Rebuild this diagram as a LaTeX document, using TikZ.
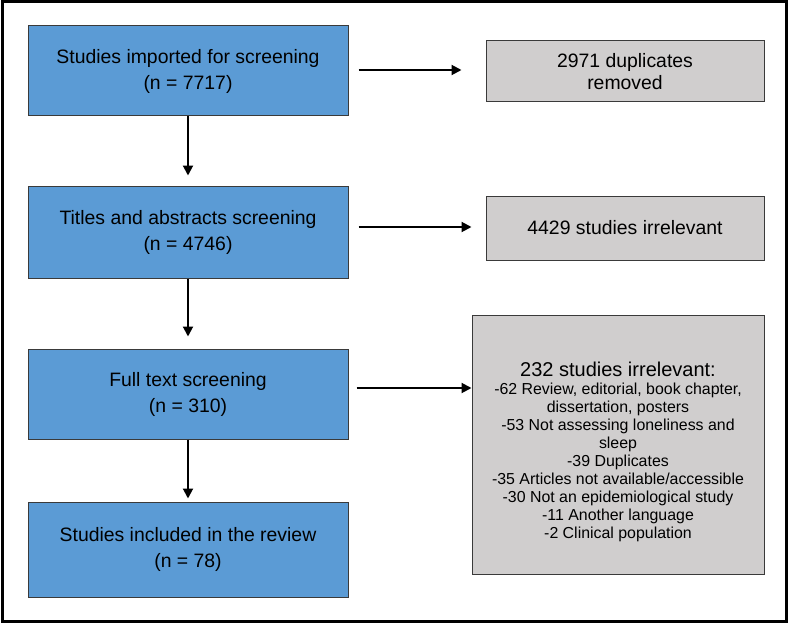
\documentclass[tikz,border=0pt]{standalone}
\usepackage{fontspec}
\setmainfont{Liberation Sans}
\usetikzlibrary{arrows.meta,calc}
\definecolor{boxblue}{HTML}{5B9BD5}
\definecolor{boxgray}{HTML}{D0CECE}
\definecolor{edgegray}{HTML}{3A3A3A}
\tikzset{
  mainbox/.style={draw=edgegray, line width=1pt, fill=boxblue, align=center,
    minimum width=320pt, inner sep=0pt, font=\fontsize{19.4}{26}\selectfont},
  sidebox/.style={draw=edgegray, line width=1pt, fill=boxgray, align=center,
    inner sep=0pt, font=\fontsize{19.4}{22}\selectfont},
  arr/.style={line width=2pt, -{Triangle[length=10pt,width=10pt]}}
}
\begin{document}
\begin{tikzpicture}[x=1pt,y=-1pt]
\useasboundingbox (0,0) rectangle (789,623);
\draw[line width=3pt] (2,2) rectangle (786,621);

\node[mainbox, minimum height=90pt] (b1) at (188,71) {Studies imported for screening\\(n = 7717)};
\node[mainbox, minimum height=92pt] (b2) at (188,232) {Titles and abstracts screening\\(n = 4746)};
\node[mainbox, minimum height=90pt] (b3) at (188,394) {Full text screening\\(n = 310)};
\node[mainbox, minimum height=95pt] (b4) at (188,549.5) {Studies included in the review\\(n = 78)};

\node[sidebox, minimum width=278pt, minimum height=61pt] (r1) at (625,71.5) {2971 duplicates\\removed};
\node[sidebox, minimum width=278pt, minimum height=64pt] (r2) at (625,228) {4429 studies irrelevant};
\node[sidebox, minimum width=292pt, minimum height=259pt, font=\fontsize{15.9}{17.9}\selectfont] (r3) at (618,444.5)
  {\raisebox{-8pt}[\height][\depth]{\begin{tabular}{@{}c@{}}
   {\fontsize{20}{22}\selectfont 232 studies irrelevant:}\\[1pt]
   -62 Review, editorial, book chapter,\\
   dissertation, posters\\
   -53 Not assessing loneliness and\\
   sleep\\
   -39 Duplicates\\
   -35 Articles not available/accessible\\
   -30 Not an epidemiological study\\
   -11 Another language\\
   -2 Clinical population
   \end{tabular}}};

\draw[arr] (b1.south) -- ($(b2.north)+(0,-10)$);
\draw[arr] (b2.south) -- ($(b3.north)+(0,-12)$);
\draw[arr] (b3.south) -- ($(b4.north)+(0,-3)$);

\draw[arr] ($(b1.east)+(10,-1)$) -- ($(r1.west)+(-24,-1.5)$);
\draw[arr] ($(b2.east)+(10,-5)$) -- ($(r2.west)+(-14,-1)$);
\draw[arr] ($(b3.east)+(8,-6)$) -- (r3.west |- {$(b3.east)+(0,-6)$});
\end{tikzpicture}
\end{document}
